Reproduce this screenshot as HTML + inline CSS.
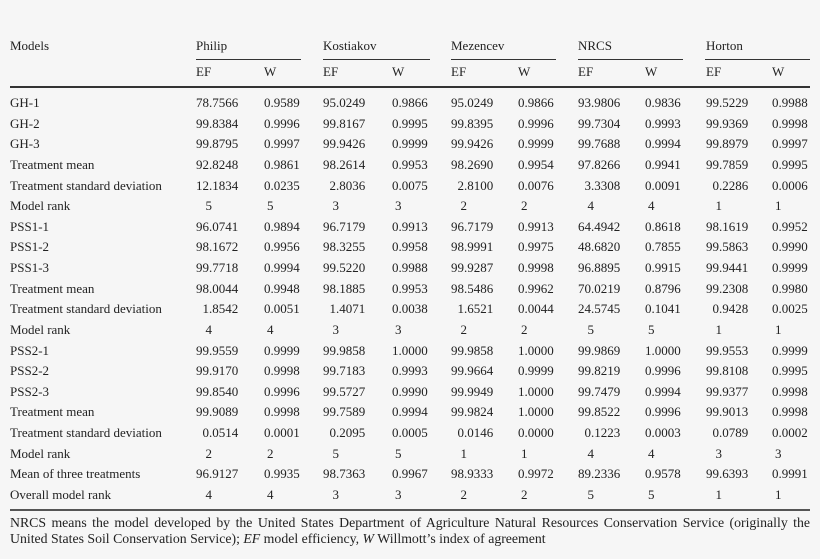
<!DOCTYPE html>
<html><head><meta charset="utf-8"><style>
body{margin:0;background:#f6f6f6;}
#p{position:relative;width:820px;height:559px;overflow:hidden;background:#f6f6f6;font-family:"Liberation Serif",serif;font-size:13px;color:#222;}
.t{position:absolute;line-height:16px;white-space:nowrap;}
.r{position:absolute;left:0;width:820px;height:16px;line-height:16px;}
.r span{position:absolute;top:0;white-space:nowrap;}
.r span u{display:inline-block;width:40px;text-align:right;text-decoration:none;}
.r.k span u{width:43px;}
.r .l{left:10px;}
.r span:nth-child(2){left:169px}
.r span:nth-child(3){left:230.5px}
.r span:nth-child(4){left:296px}
.r span:nth-child(5){left:358.5px}
.r span:nth-child(6){left:424px}
.r span:nth-child(7){left:484.5px}
.r span:nth-child(8){left:551px}
.r span:nth-child(9){left:611.5px}
.r span:nth-child(10){left:679px}
.r span:nth-child(11){left:738.5px}
.ln{position:absolute;background:#333;}
.fn{position:absolute;left:10px;width:800px;font-size:13.8px;line-height:16px;white-space:nowrap;}
.fn1{text-align:justify;text-align-last:justify;white-space:normal;}
</style></head><body><div id="p">
<div class="t" style="left:10px;top:38px">Models</div>
<div class="t" style="left:196px;top:38px">Philip</div>
<div class="t" style="left:323px;top:38px">Kostiakov</div>
<div class="t" style="left:451px;top:38px">Mezencev</div>
<div class="t" style="left:578px;top:38px">NRCS</div>
<div class="t" style="left:706px;top:38px">Horton</div>
<div class="ln" style="left:196px;top:59px;width:105px;height:1px"></div>
<div class="ln" style="left:323px;top:59px;width:107px;height:1px"></div>
<div class="ln" style="left:451px;top:59px;width:105px;height:1px"></div>
<div class="ln" style="left:578px;top:59px;width:105px;height:1px"></div>
<div class="ln" style="left:705px;top:59px;width:105px;height:1px"></div>
<div class="t" style="left:196px;top:64px">EF</div><div class="t" style="left:264px;top:64px">W</div>
<div class="t" style="left:323px;top:64px">EF</div><div class="t" style="left:392px;top:64px">W</div>
<div class="t" style="left:451px;top:64px">EF</div><div class="t" style="left:518px;top:64px">W</div>
<div class="t" style="left:578px;top:64px">EF</div><div class="t" style="left:645px;top:64px">W</div>
<div class="t" style="left:706px;top:64px">EF</div><div class="t" style="left:772px;top:64px">W</div>
<div class="ln" style="left:10px;top:86px;width:800px;height:2px"></div>

<div class="r" style="top:95px"><span class="l">GH-1</span><span><u>78</u>.7566</span><span><u>0</u>.9589</span><span><u>95</u>.0249</span><span><u>0</u>.9866</span><span><u>95</u>.0249</span><span><u>0</u>.9866</span><span><u>93</u>.9806</span><span><u>0</u>.9836</span><span><u>99</u>.5229</span><span><u>0</u>.9988</span></div>
<div class="r" style="top:115.6px"><span class="l">GH-2</span><span><u>99</u>.8384</span><span><u>0</u>.9996</span><span><u>99</u>.8167</span><span><u>0</u>.9995</span><span><u>99</u>.8395</span><span><u>0</u>.9996</span><span><u>99</u>.7304</span><span><u>0</u>.9993</span><span><u>99</u>.9369</span><span><u>0</u>.9998</span></div>
<div class="r" style="top:136.3px"><span class="l">GH-3</span><span><u>99</u>.8795</span><span><u>0</u>.9997</span><span><u>99</u>.9426</span><span><u>0</u>.9999</span><span><u>99</u>.9426</span><span><u>0</u>.9999</span><span><u>99</u>.7688</span><span><u>0</u>.9994</span><span><u>99</u>.8979</span><span><u>0</u>.9997</span></div>
<div class="r" style="top:156.9px"><span class="l">Treatment mean</span><span><u>92</u>.8248</span><span><u>0</u>.9861</span><span><u>98</u>.2614</span><span><u>0</u>.9953</span><span><u>98</u>.2690</span><span><u>0</u>.9954</span><span><u>97</u>.8266</span><span><u>0</u>.9941</span><span><u>99</u>.7859</span><span><u>0</u>.9995</span></div>
<div class="r" style="top:177.5px"><span class="l">Treatment standard deviation</span><span><u>12</u>.1834</span><span><u>0</u>.0235</span><span><u>2</u>.8036</span><span><u>0</u>.0075</span><span><u>2</u>.8100</span><span><u>0</u>.0076</span><span><u>3</u>.3308</span><span><u>0</u>.0091</span><span><u>0</u>.2286</span><span><u>0</u>.0006</span></div>
<div class="r k" style="top:198.2px"><span class="l">Model rank</span><span><u>5</u></span><span><u>5</u></span><span><u>3</u></span><span><u>3</u></span><span><u>2</u></span><span><u>2</u></span><span><u>4</u></span><span><u>4</u></span><span><u>1</u></span><span><u>1</u></span></div>
<div class="r" style="top:218.8px"><span class="l">PSS1-1</span><span><u>96</u>.0741</span><span><u>0</u>.9894</span><span><u>96</u>.7179</span><span><u>0</u>.9913</span><span><u>96</u>.7179</span><span><u>0</u>.9913</span><span><u>64</u>.4942</span><span><u>0</u>.8618</span><span><u>98</u>.1619</span><span><u>0</u>.9952</span></div>
<div class="r" style="top:239.4px"><span class="l">PSS1-2</span><span><u>98</u>.1672</span><span><u>0</u>.9956</span><span><u>98</u>.3255</span><span><u>0</u>.9958</span><span><u>98</u>.9991</span><span><u>0</u>.9975</span><span><u>48</u>.6820</span><span><u>0</u>.7855</span><span><u>99</u>.5863</span><span><u>0</u>.9990</span></div>
<div class="r" style="top:260px"><span class="l">PSS1-3</span><span><u>99</u>.7718</span><span><u>0</u>.9994</span><span><u>99</u>.5220</span><span><u>0</u>.9988</span><span><u>99</u>.9287</span><span><u>0</u>.9998</span><span><u>96</u>.8895</span><span><u>0</u>.9915</span><span><u>99</u>.9441</span><span><u>0</u>.9999</span></div>
<div class="r" style="top:280.7px"><span class="l">Treatment mean</span><span><u>98</u>.0044</span><span><u>0</u>.9948</span><span><u>98</u>.1885</span><span><u>0</u>.9953</span><span><u>98</u>.5486</span><span><u>0</u>.9962</span><span><u>70</u>.0219</span><span><u>0</u>.8796</span><span><u>99</u>.2308</span><span><u>0</u>.9980</span></div>
<div class="r" style="top:301.3px"><span class="l">Treatment standard deviation</span><span><u>1</u>.8542</span><span><u>0</u>.0051</span><span><u>1</u>.4071</span><span><u>0</u>.0038</span><span><u>1</u>.6521</span><span><u>0</u>.0044</span><span><u>24</u>.5745</span><span><u>0</u>.1041</span><span><u>0</u>.9428</span><span><u>0</u>.0025</span></div>
<div class="r k" style="top:321.9px"><span class="l">Model rank</span><span><u>4</u></span><span><u>4</u></span><span><u>3</u></span><span><u>3</u></span><span><u>2</u></span><span><u>2</u></span><span><u>5</u></span><span><u>5</u></span><span><u>1</u></span><span><u>1</u></span></div>
<div class="r" style="top:342.6px"><span class="l">PSS2-1</span><span><u>99</u>.9559</span><span><u>0</u>.9999</span><span><u>99</u>.9858</span><span><u>1</u>.0000</span><span><u>99</u>.9858</span><span><u>1</u>.0000</span><span><u>99</u>.9869</span><span><u>1</u>.0000</span><span><u>99</u>.9553</span><span><u>0</u>.9999</span></div>
<div class="r" style="top:363.2px"><span class="l">PSS2-2</span><span><u>99</u>.9170</span><span><u>0</u>.9998</span><span><u>99</u>.7183</span><span><u>0</u>.9993</span><span><u>99</u>.9664</span><span><u>0</u>.9999</span><span><u>99</u>.8219</span><span><u>0</u>.9996</span><span><u>99</u>.8108</span><span><u>0</u>.9995</span></div>
<div class="r" style="top:383.8px"><span class="l">PSS2-3</span><span><u>99</u>.8540</span><span><u>0</u>.9996</span><span><u>99</u>.5727</span><span><u>0</u>.9990</span><span><u>99</u>.9949</span><span><u>1</u>.0000</span><span><u>99</u>.7479</span><span><u>0</u>.9994</span><span><u>99</u>.9377</span><span><u>0</u>.9998</span></div>
<div class="r" style="top:404.4px"><span class="l">Treatment mean</span><span><u>99</u>.9089</span><span><u>0</u>.9998</span><span><u>99</u>.7589</span><span><u>0</u>.9994</span><span><u>99</u>.9824</span><span><u>1</u>.0000</span><span><u>99</u>.8522</span><span><u>0</u>.9996</span><span><u>99</u>.9013</span><span><u>0</u>.9998</span></div>
<div class="r" style="top:425.1px"><span class="l">Treatment standard deviation</span><span><u>0</u>.0514</span><span><u>0</u>.0001</span><span><u>0</u>.2095</span><span><u>0</u>.0005</span><span><u>0</u>.0146</span><span><u>0</u>.0000</span><span><u>0</u>.1223</span><span><u>0</u>.0003</span><span><u>0</u>.0789</span><span><u>0</u>.0002</span></div>
<div class="r k" style="top:445.7px"><span class="l">Model rank</span><span><u>2</u></span><span><u>2</u></span><span><u>5</u></span><span><u>5</u></span><span><u>1</u></span><span><u>1</u></span><span><u>4</u></span><span><u>4</u></span><span><u>3</u></span><span><u>3</u></span></div>
<div class="r" style="top:466.3px"><span class="l">Mean of three treatments</span><span><u>96</u>.9127</span><span><u>0</u>.9935</span><span><u>98</u>.7363</span><span><u>0</u>.9967</span><span><u>98</u>.9333</span><span><u>0</u>.9972</span><span><u>89</u>.2336</span><span><u>0</u>.9578</span><span><u>99</u>.6393</span><span><u>0</u>.9991</span></div>
<div class="r k" style="top:487px"><span class="l">Overall model rank</span><span><u>4</u></span><span><u>4</u></span><span><u>3</u></span><span><u>3</u></span><span><u>2</u></span><span><u>2</u></span><span><u>5</u></span><span><u>5</u></span><span><u>1</u></span><span><u>1</u></span></div>

<div class="ln" style="left:10px;top:509px;width:800px;height:1.5px;background:#555"></div>
<div class="fn fn1" style="top:515px">NRCS means the model developed by the United States Department of Agriculture Natural Resources Conservation Service (originally the</div>
<div class="fn" style="top:531px">United States Soil Conservation Service); <i>EF</i> model efficiency, <i>W</i> Willmott’s index of agreement</div>
</div></body></html>
